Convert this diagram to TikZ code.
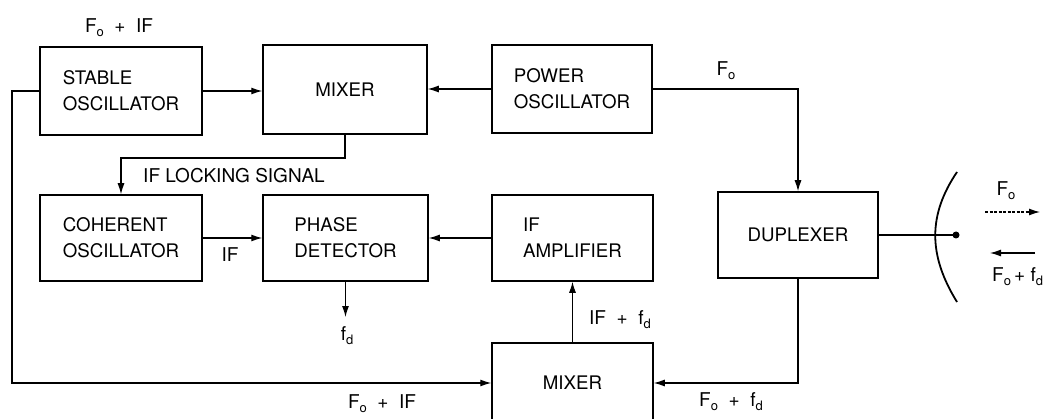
\documentclass[tikz,border=0pt]{standalone}
\usepackage{fontspec}
\setmainfont{TeX Gyre Heros}
\usetikzlibrary{arrows.meta,calc}
\newcommand\sbs[1]{\raisebox{-0.4ex}{\fontsize{13}{13}\selectfont #1}}
\begin{document}
\begin{tikzpicture}[x=1pt,y=-1pt,
  box/.style={draw,line width=1.5pt,align=left,inner sep=0pt,font=\fontsize{18.7}{26}\selectfont},
  conn/.style={line width=1.2pt},
  arr/.style={conn,-{Latex[length=11pt,width=7pt]}},
  lbl/.style={font=\fontsize{19}{20}\selectfont,inner sep=0pt}]
\useasboundingbox (0,0) rectangle (1048,419);
% boxes
\node[box,minimum width=162pt,minimum height=88pt] (stable) at (121,91) {STABLE\\OSCILLATOR};
\node[box,minimum width=164pt,minimum height=89pt] (mixtop) at (345,89.5) {MIXER};
\node[box,minimum width=160pt,minimum height=88pt] (power) at (572,89) {POWER\\OSCILLATOR};
\node[box,minimum width=162pt,minimum height=86pt] (coh) at (121,238) {COHERENT\\OSCILLATOR};
\node[box,minimum width=165pt,minimum height=86pt] (phase) at (345.5,238) {PHASE\\DETECTOR};
\node[box,minimum width=161pt,minimum height=86pt] (ifamp) at (572.5,238) {IF\\AMPLIFIER};
\node[box,minimum width=160pt,minimum height=86pt] (dup) at (798,235) {DUPLEXER};
\node[box,minimum width=161pt,minimum height=80pt] (mixbot) at (572.5,383) {MIXER};
% coordinates
\coordinate (lk) at (121,158);
\coordinate (fdend) at (345.5,317);
\coordinate (fbl) at (12,91);
\coordinate (ant) at (956,235);
\coordinate (tx1) at (985,212);
\coordinate (tx2) at (1040,212);
\coordinate (rx1) at (1035,253);
\coordinate (rx2) at (990,253);
% connectors
\draw[arr] (stable.east) -- (stable.east -| mixtop.west);
\draw[arr] (power.west) -- (power.west -| mixtop.east);
\draw[arr] (power.east) -| (dup.north);
\draw[arr] (mixtop.south) |- (lk) -- (coh.north);
\draw[arr] (coh.east) -- (coh.east -| phase.west);
\draw[arr] (ifamp.west) -- (ifamp.west -| phase.east);
\draw[arr] (phase.south) -- (fdend);
\draw[arr] (stable.west) -- (fbl) |- (mixbot.west);
\draw[arr] (mixbot.north) -- (ifamp.south);
\draw[arr] (dup.south) |- (mixbot.east);
\draw[conn] (dup.east) -- (ant);
\fill (ant) circle (3.5pt);
\draw[line width=1.8pt] (957,172) .. controls (928,215) and (928,255) .. (957,302);
\draw[conn,dash pattern=on 3pt off 1.5pt,-{Latex[length=11pt,width=7pt]}] (tx1) -- (tx2);
\draw[arr] (rx1) -- (rx2);
% labels
\node[lbl] (l1) at (119,28) {F\sbs{o}\ \ +\ \ IF};
\node[lbl] (l2) at (726,71) {F\sbs{o}};
\node[lbl] (l3) at (234,176) {IF LOCKING SIGNAL};
\node[lbl] (l4) at (230,255) {IF};
\node[lbl] (l5) at (347,336) {f\sbs{d}};
\node[lbl] (l6) at (382,404) {F\sbs{o}\ \ +\ \ IF};
\node[lbl] (l7) at (620,320) {IF\ \ +\ \ f\sbs{d}};
\node[lbl] (l8) at (731,402) {F\sbs{o}\ \ +\ \ f\sbs{d}};
\node[lbl] (l9) at (1006,191) {F\sbs{o}};
\node[lbl,anchor=west] (l10) at (992,277) {F\sbs{o}\,+\ f\sbs{d}};
\end{tikzpicture}
\end{document}
